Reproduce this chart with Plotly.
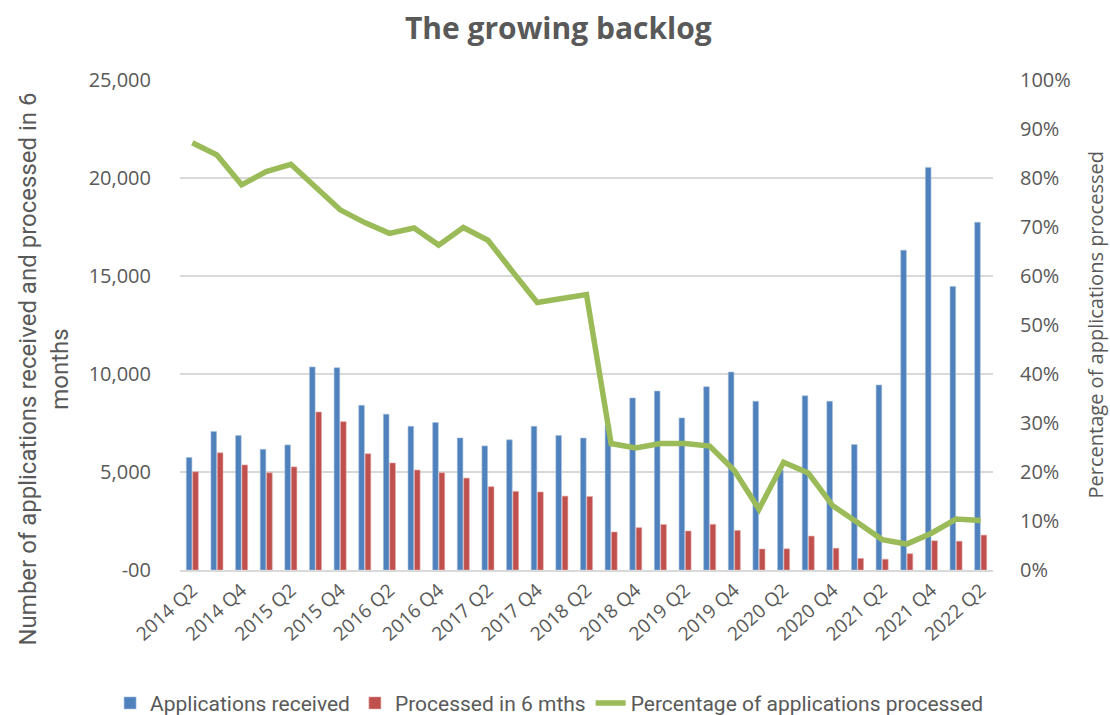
import plotly.graph_objects as go

# Quarterly series, 2014 Q2 - 2022 Q2
quarters = [
    "2014 Q2", "2014 Q3", "2014 Q4",
    "2015 Q1", "2015 Q2", "2015 Q3", "2015 Q4",
    "2016 Q1", "2016 Q2", "2016 Q3", "2016 Q4",
    "2017 Q1", "2017 Q2", "2017 Q3", "2017 Q4",
    "2018 Q1", "2018 Q2", "2018 Q3", "2018 Q4",
    "2019 Q1", "2019 Q2", "2019 Q3", "2019 Q4",
    "2020 Q1", "2020 Q2", "2020 Q3", "2020 Q4",
    "2021 Q1", "2021 Q2", "2021 Q3", "2021 Q4",
    "2022 Q1", "2022 Q2",
]

applications_received = [
    5740, 7070, 6860,
    6160, 6380, 10360, 10320,
    8400, 7950, 7330, 7520,
    6740, 6330, 6640, 7330,
    6860, 6730, 7400, 8780,
    9130, 7760, 9350, 10100,
    8610, 5100, 8890, 8610,
    6400, 9440, 16320, 20540,
    14470, 17740,
]

processed_6_months = [
    5010, 5980, 5360,
    4960, 5260, 8060, 7570,
    5930, 5460, 5100, 4960,
    4690, 4250, 4010, 3980,
    3770, 3750, 1940, 2160,
    2320, 1990, 2330, 2020,
    1070, 1080, 1730, 1110,
    590, 550, 830, 1490,
    1470, 1780,
]

pct_processed = [
    87.2, 84.7, 78.6,
    81.3, 82.8, 78.1, 73.5,
    70.9, 68.7, 69.8, 66.3,
    69.9, 67.3, 60.9, 54.6,
    55.4, 56.2, 25.8, 24.9,
    25.8, 25.8, 25.3, 20.3,
    12.4, 22.0, 19.8, 13.1,
    9.7, 6.2, 5.3, 7.5,
    10.4, 10.1,
]

left_ticks = [0, 5000, 10000, 15000, 20000, 25000]
left_tick_text = ["-00", "5,000", "10,000", "15,000", "20,000", "25,000"]
right_ticks = [i / 100 for i in range(0, 101, 10)]
right_tick_text = [f"{i}%" for i in range(0, 101, 10)]
x_tick_labels = quarters[::2]

TEXT = "#595959"
FONT = "Open Sans"
NARROW = "Roboto"

fig = go.Figure()

fig.add_trace(go.Bar(
    x=quarters, y=applications_received, name="Applications received",
    marker=dict(color="#4F81BD", line=dict(color="#A7C0DE", width=0.6)),
))
fig.add_trace(go.Bar(
    x=quarters, y=processed_6_months, name="Processed in 6 mths",
    marker=dict(color="#C0504D", line=dict(color="#E0A8A6", width=0.6)),
))
fig.add_trace(go.Scatter(
    x=quarters, y=[p / 100 for p in pct_processed], yaxis="y2",
    name="Percentage of applications processed", mode="lines",
    line=dict(color="#9BBB59", width=5.5),
))

fig.update_layout(
    width=1110, height=715,
    margin=dict(l=180, r=117, t=80, b=145, autoexpand=False),
    paper_bgcolor="white", plot_bgcolor="white",
    font=dict(family=FONT, color=TEXT, size=20),
    title=dict(
        text="<b>The growing backlog</b>",
        x=0.503, xanchor="center", y=1 - 28 / 715, yanchor="middle",
        font=dict(family=FONT, size=30, color=TEXT),
    ),
    barmode="group", bargap=0.48, bargroupgap=0.12,
    xaxis=dict(
        type="category", tickmode="array",
        tickvals=x_tick_labels, ticktext=x_tick_labels,
        tickangle=-42, tickfont=dict(size=19, color=TEXT),
        showgrid=False, showline=True, linecolor="#D9D9D9", linewidth=1.5,
        ticks="", ticklen=0, automargin=False,
    ),
    yaxis=dict(
        range=[0, 25000], tickmode="array",
        tickvals=left_ticks, ticktext=left_tick_text,
        showgrid=True, gridcolor="#D9D9D9", gridwidth=1.5,
        zeroline=False, ticks="", ticklabelstandoff=28,
        tickfont=dict(size=20, color=TEXT), automargin=False,
    ),
    yaxis2=dict(
        range=[0, 1], overlaying="y", side="right", tickmode="array",
        tickvals=right_ticks, ticktext=right_tick_text,
        showgrid=False, zeroline=False, ticks="", ticklabelstandoff=26,
        tickfont=dict(size=20, color=TEXT), automargin=False,
    ),
    legend=dict(
        orientation="h", xref="paper", x=-0.086, xanchor="left",
        yref="paper", y=-0.272, yanchor="middle",
        font=dict(family=NARROW, size=21, color=TEXT),
        traceorder="normal",
    ),
    annotations=[
        dict(
            text="Number of applications received and processed in 6<br>months",
            xref="paper", yref="paper", x=-0.168, y=0.41,
            xanchor="center", yanchor="middle", textangle=-90, showarrow=False,
            font=dict(family=NARROW, size=24, color=TEXT),
        ),
        dict(
            text="Percentage of applications processed",
            xref="paper", yref="paper", x=1.126, y=0.5,
            xanchor="center", yanchor="middle", textangle=-90, showarrow=False,
            font=dict(family=FONT, size=20, color=TEXT),
        ),
    ],
)

fig.write_html("out.html")
